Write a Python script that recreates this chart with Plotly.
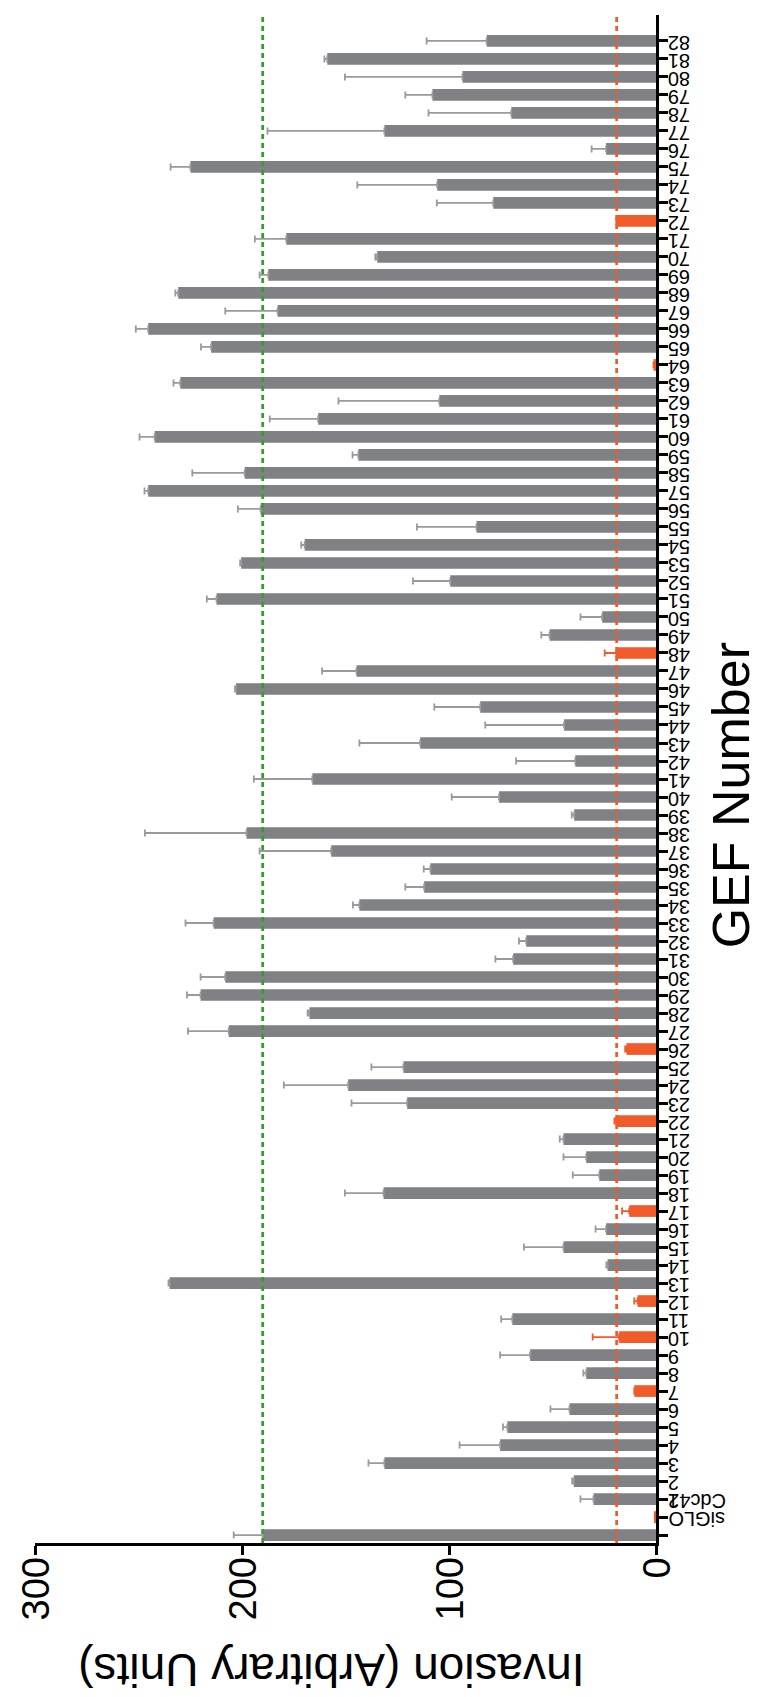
import plotly.graph_objects as go

categories = ["siGLO", "Cdc42"] + [str(i) for i in range(1, 83)]

values = [
    190, 0.6,
    30.2, 39.7, 131.2, 75.3, 71.8, 41.8, 10.5, 33.7, 60.8, 17.8,
    69.4, 8.9, 235, 23.4, 44.7, 24.1, 12.9, 131.6, 27.4, 33.7,
    44.7, 19.2, 120.2, 148.7, 122, 14.3, 206.4, 167.4, 220, 208.1,
    69, 62.7, 213.7, 143.3, 112, 109, 156.9, 197.8, 39.5, 75.8,
    166, 39, 113.9, 44.4, 84.9, 202.9, 144.7, 19.2, 51.4, 26,
    212.3, 99.4, 200.4, 169.7, 86.7, 191, 245.3, 198.7, 143.8, 242.2,
    163.2, 104.7, 229.8, 1.2, 214.9, 245.3, 182.8, 230.8, 187.3, 134.7,
    178.6, 19.2, 78.6, 105.7, 224.9, 24.1, 131.2, 69.9, 108, 93.5,
    158.8, 81.8,
]

errors = [
    14, 0,
    6.3, 0.8, 7.7, 19.6, 2.1, 9.2, 0, 1.4, 14.5, 12.8,
    5.4, 1.6, 0.5, 0.6, 19.1, 5.1, 3.5, 18.7, 12.8, 11,
    1.8, 0.9, 26.9, 31.1, 15.5, 0.6, 19.7, 0.9, 6.6, 11.9,
    8.6, 3.5, 13.6, 3.1, 9.1, 3.2, 34.6, 49.1, 1.2, 22.9,
    28.3, 28.6, 29.4, 38.1, 22.2, 0.5, 16.6, 5.6, 4, 10.5,
    4.7, 18, 0.5, 1.7, 28.8, 11, 1.8, 25.3, 2.8, 7.3,
    23.4, 48.7, 3.3, 0, 4.9, 6, 25.3, 1.4, 4.2, 0.9,
    15.2, 0, 27.3, 38.6, 9.6, 7, 56.5, 40, 13.1, 56.8,
    1.4, 29,
]

highlighted = ["Cdc42", "7", "10", "12", "17", "22", "26", "48", "64", "72"]

control_level = 190   # siGLO reference (green dashed)
knockdown_level = 19  # knockdown threshold (orange dashed)

value_ticks = [0, 100, 200, 300]

GRAY = "#808184"
ORANGE = "#f15a29"
GREEN = "#3a9a35"
FONT = "Liberation Sans, Arial, Helvetica, sans-serif"

gray_vals = [v if c not in highlighted else None for c, v in zip(categories, values)]
gray_errs = [e if c not in highlighted else 0 for c, e in zip(categories, errors)]
org_vals = [v if c in highlighted else None for c, v in zip(categories, values)]
org_errs = [e if c in highlighted else 0 for c, e in zip(categories, errors)]
zeros = [0] * len(categories)

fig = go.Figure()
fig.add_trace(go.Bar(
    y=categories, x=gray_vals, orientation="h",
    marker=dict(color=GRAY, line=dict(width=0)),
    error_x=dict(type="data", array=gray_errs, arrayminus=zeros, symmetric=False,
                 color="#9a9a9c", thickness=1.8, width=3.5),
    showlegend=False,
))
fig.add_trace(go.Bar(
    y=categories, x=org_vals, orientation="h",
    marker=dict(color=ORANGE, line=dict(width=0)),
    error_x=dict(type="data", array=org_errs, arrayminus=zeros, symmetric=False,
                 color=ORANGE, thickness=1.8, width=3.5),
    showlegend=False,
))

fig.add_shape(type="line", xref="x", yref="paper", x0=control_level, x1=control_level,
              y0=0, y1=1, line=dict(color=GREEN, width=2.8, dash="5px,4px"), layer="above")
fig.add_shape(type="line", xref="x", yref="paper", x0=knockdown_level, x1=knockdown_level,
              y0=0, y1=1, line=dict(color=ORANGE, width=2.8, dash="5px,4px"), layer="above")

# category labels (rotated 180 degrees, right of the axis)
annotations = [
    dict(text=c, xref="paper", yref="y", x=1, y=c, xshift=11, yshift=16,
         xanchor="left", yanchor="middle", textangle=180, showarrow=False,
         font=dict(size=20, family=FONT, color="black"), borderpad=0)
    for c in categories
]
# value labels (rotated -90 degrees, below the axis)
annotations += [
    dict(text=str(v), xref="x", yref="paper", x=v, y=0, yshift=-14,
         xanchor="center", yanchor="top", textangle=-90, showarrow=False,
         font=dict(size=38, family=FONT, color="black"), borderpad=0)
    for v in value_ticks
]
annotations += [
    dict(text="Invasion (Arbitrary Units)", xref="paper", yref="paper",
         x=0.477, y=-0.0831, xanchor="center", yanchor="middle",
         textangle=180, showarrow=False, font=dict(size=46, family=FONT)),
    dict(text="GEF Number", xref="paper", yref="paper",
         x=1.12, y=0.489, xanchor="center", yanchor="middle",
         textangle=-90, showarrow=False, font=dict(size=52, family=FONT)),
]

fig.update_layout(
    width=759, height=1697,
    margin=dict(l=27, r=111, t=7, b=162),
    paper_bgcolor="white", plot_bgcolor="white",
    barmode="overlay", bargap=0.35,
    font=dict(family=FONT, color="black"),
    xaxis=dict(
        range=[300, 0], tickvals=value_ticks,
        showgrid=False, zeroline=False, showline=True, linecolor="black", linewidth=3,
        ticks="outside", ticklen=9, tickwidth=3, tickcolor="black",
        showticklabels=False,
    ),
    yaxis=dict(
        type="category", categoryorder="array", categoryarray=categories,
        range=[-0.44, 84.44], side="right", tickmode="linear", dtick=1,
        showgrid=False, zeroline=False, showline=True, linecolor="black", linewidth=3,
        ticks="outside", ticklen=9, tickwidth=3, tickcolor="black",
        showticklabels=False,
    ),
    annotations=annotations,
)

fig.write_html("out.html")
